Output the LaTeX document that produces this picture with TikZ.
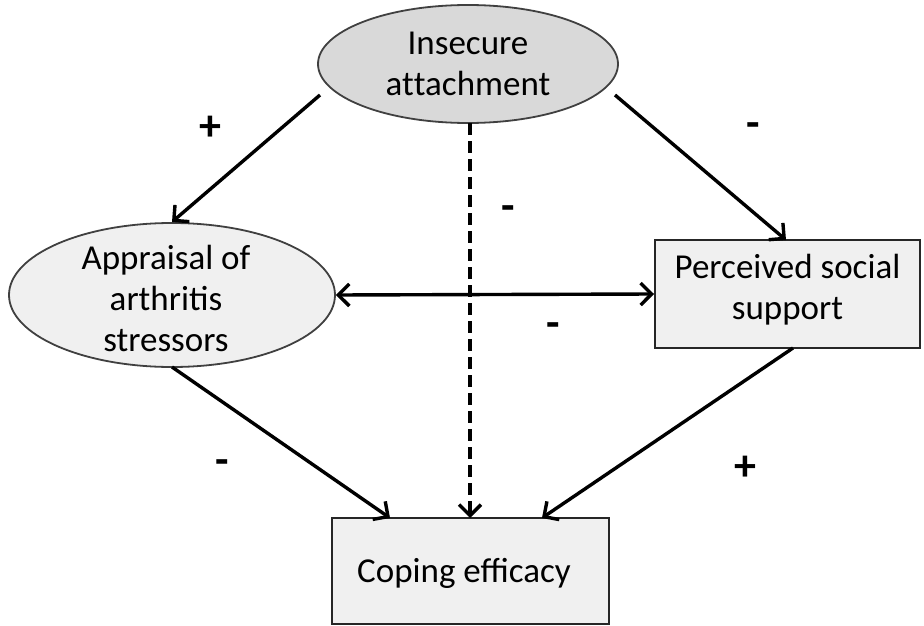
\documentclass[tikz,border=0pt]{standalone}
\usepackage{fontspec}
\setmainfont{Carlito}
\usetikzlibrary{arrows.meta,shapes.geometric}
\tikzset{
  lbl/.style={font=\fontsize{35}{41}\selectfont, align=center, text=black},
  ell/.style={ellipse, draw=black!75, line width=1.8pt, inner sep=0pt},
  box/.style={rectangle, draw=black!85, line width=2pt, fill=black!6, inner sep=0pt},
  conn/.style={line width=3.4pt, -{Straight Barb[length=11pt,width=22pt,line width=3.4pt]}},
  sign/.style={font=\fontsize{44}{44}\selectfont\bfseries, text=black}
}
\begin{document}
\begin{tikzpicture}[x=1pt,y=-1pt]
\useasboundingbox (0,0) rectangle (924,626);
\fill[white] (0,0) rectangle (924,626);
% nodes
\node[ell, fill=black!15, minimum width=300pt, minimum height=118pt] (ia) at (468,64) {};
\node[lbl] at (468,64) {Insecure\\at\kern0pt tachment};
\node[ell, fill=black!6, minimum width=326pt, minimum height=144pt] (ap) at (172,295) {};
\node[lbl] at (166,298) {Appraisal of\\arthritis\\stressors};
\node[box, minimum width=265pt, minimum height=108pt] (ps) at (787.5,294) {};
\node[lbl] at (787.5,290) {Perceived social\\support};
\node[box, minimum width=277pt, minimum height=106pt] (ce) at (470.5,571) {};
\node[lbl] at (464,573) {Coping efficacy};
% connectors
\coordinate (iaL) at (320,95);
\coordinate (iaR) at (615,95);
\coordinate (apB) at (172,367);
\coordinate (psB) at (793,348);
\coordinate (iaS) at (470,123);
\coordinate (ceN) at (470,518);
\draw[conn] (iaL) -- (172,222);
\draw[conn] (iaR) -- (786,240);
\draw[conn, dash pattern=on 12pt off 6pt] (iaS) -- (ceN);
\draw[line width=3.4pt, {Straight Barb[length=11pt,width=22pt,line width=3.4pt]}-{Straight Barb[length=11pt,width=22pt,line width=3.4pt]}] (ap.east) -- (ps.west);
\draw[conn] (apB) -- (390,518);
\draw[conn] (psB) -- (542,518);
% signs
\node[sign] at (210,128) {+};
\node[sign] at (753,130) {-};
\node[sign] at (508,213) {-};
\node[sign] at (553,330) {-};
\node[sign] at (222,467) {-};
\node[sign] at (745,468) {+};
\end{tikzpicture}
\end{document}
